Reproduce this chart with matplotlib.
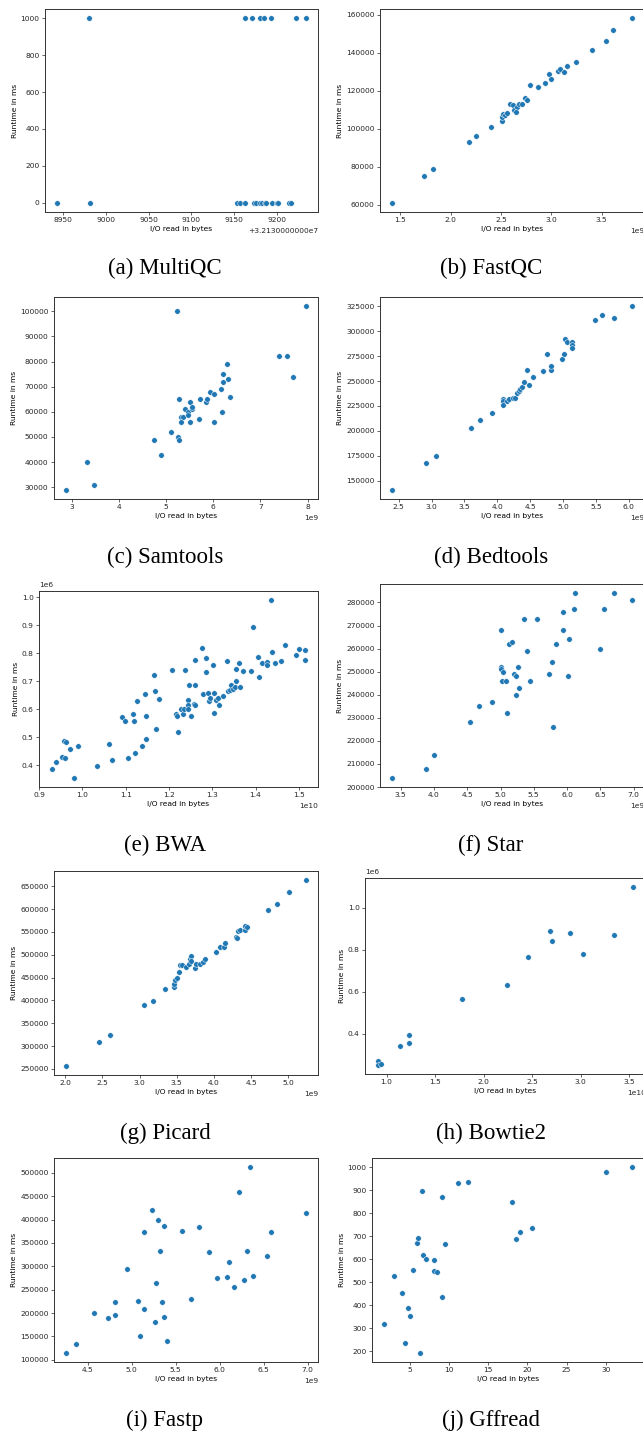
import numpy as np
import matplotlib
matplotlib.use("Agg")
import matplotlib.pyplot as plt
from matplotlib import ticker

W, H = 643, 1432

# (a) MultiQC
multiqc_x = [32138980, 32139163, 32139171, 32139180, 32139185, 32139194, 32139223, 32139234,
             32138943, 32138981, 32139154, 32139157, 32139163, 32139173, 32139176, 32139180,
             32139183, 32139186, 32139188, 32139195, 32139200, 32139202, 32139215, 32139217]
multiqc_y = [1000, 1000, 1000, 1000, 1000, 1000, 1000, 1000,
             0, 0, 0, 0, 0, 0, 0, 0, 0, 0, 0, 0, 0, 0, 0, 0]

# (b) FastQC, x in 1e9 bytes
fastqc_x = [1.417, 1.735, 1.828, 2.18, 2.253, 2.399, 2.505, 2.505, 2.52, 2.54, 2.56, 2.585,
            2.62, 2.63, 2.654, 2.648, 2.678, 2.704, 2.734, 2.76, 2.787, 2.866, 2.933, 2.973,
            2.993, 3.062, 3.085, 3.122, 3.155, 3.241, 3.404, 3.54, 3.607, 3.80]
fastqc_y = [61000, 75000, 79000, 93000, 96000, 101000, 104000, 106200, 107800, 107100, 108000, 113000,
            112200, 110000, 111500, 108900, 113100, 113100, 115900, 115000, 123100, 122000, 124000, 129000,
            125900, 130100, 131200, 130000, 133100, 135000, 141200, 146000, 152100, 158100]

# (c) Samtools, x in 1e9 bytes
samtools_x = [2.88, 3.326, 3.468, 4.745, 4.90, 5.10, 5.262, 5.277, 5.234, 5.277, 5.312, 5.36,
              5.312, 5.41, 5.468, 5.468, 5.50, 5.497, 5.553, 5.56, 5.695, 5.716, 5.844, 5.858,
              5.929, 6.007, 6.007, 6.156, 6.177, 6.199, 6.213, 6.29, 6.305, 6.348, 7.39, 7.553,
              7.688, 7.965]
samtools_y = [29000, 40000, 31000, 49000, 43000, 52000, 50000, 49000, 100000, 65000, 58000, 58000,
              56000, 61000, 60000, 58900, 64000, 56000, 61000, 62000, 57000, 65000, 64000, 65000,
              68000, 67000, 56000, 69000, 60000, 75000, 72000, 79000, 73000, 66000, 82000, 82000,
              74000, 102000]

# (d) Bedtools, x in 1e9 bytes
bedtools_x = [2.398, 2.917, 3.075, 3.599, 3.741, 3.914, 4.082, 4.082, 4.087, 4.143, 4.184, 4.234,
              4.27, 4.306, 4.326, 4.346, 4.377, 4.40, 4.458, 4.483, 4.54, 4.70, 4.758, 4.81,
              4.82, 4.987, 5.013, 5.028, 5.064, 5.13, 5.135, 5.14, 5.486, 5.593, 5.78, 6.05]
bedtools_y = [141000, 168000, 175000, 203000, 211000, 218000, 232000, 230000, 226000, 230000, 232000, 233200,
              233500, 238000, 240500, 242500, 244000, 249000, 261000, 246000, 254000, 260000, 277000, 261000,
              265000, 272000, 277000, 292000, 289000, 289100, 286400, 283000, 311000, 316000, 313000, 325000]

# (e) BWA, x in 1e10 bytes, y in 1e6 ms
bwa_x = [0.929, 0.939, 0.9525, 0.958, 0.962, 0.959, 0.972, 0.980, 0.989, 1.034, 1.061, 1.068,
         1.091, 1.098, 1.105, 1.118, 1.119, 1.121, 1.127, 1.138, 1.145, 1.148, 1.147, 1.165,
         1.168, 1.170, 1.176, 1.2066, 1.217, 1.218, 1.220, 1.227, 1.233, 1.234, 1.238, 1.243,
         1.244, 1.245, 1.247, 1.252, 1.257, 1.260, 1.260, 1.261, 1.277, 1.279, 1.285, 1.285,
         1.290, 1.292, 1.295, 1.301, 1.303, 1.303, 1.309, 1.313, 1.316, 1.325, 1.333, 1.336,
         1.342, 1.343, 1.349, 1.353, 1.354, 1.354, 1.361, 1.364, 1.371, 1.390, 1.393, 1.406,
         1.409, 1.414, 1.427, 1.427, 1.435, 1.437, 1.444, 1.458, 1.468, 1.493, 1.500, 1.515,
         1.515]
bwa_y = [0.386, 0.412, 0.431, 0.487, 0.485, 0.427, 0.457, 0.355, 0.469, 0.398, 0.475, 0.420,
         0.571, 0.559, 0.425, 0.585, 0.560, 0.443, 0.630, 0.468, 0.655, 0.575, 0.494, 0.724,
         0.667, 0.530, 0.637, 0.739, 0.583, 0.575, 0.520, 0.602, 0.584, 0.602, 0.741, 0.634,
         0.617, 0.602, 0.685, 0.577, 0.618, 0.616, 0.775, 0.685, 0.818, 0.654, 0.784, 0.733,
         0.658, 0.631, 0.640, 0.759, 0.659, 0.588, 0.633, 0.642, 0.617, 0.649, 0.772, 0.664,
         0.670, 0.687, 0.672, 0.678, 0.742, 0.702, 0.764, 0.680, 0.738, 0.735, 0.893, 0.785,
         0.714, 0.764, 0.767, 0.757, 0.990, 0.804, 0.765, 0.773, 0.828, 0.795, 0.814, 0.813,
         0.777]

# (f) Star, x in 1e9 bytes
star_x = [3.369, 3.877, 4.007, 4.54, 4.675, 4.876, 5.012, 5.007, 5.012, 5.04, 5.027, 5.077,
          5.092, 5.122, 5.178, 5.208, 5.233, 5.238, 5.268, 5.278, 5.348, 5.399, 5.449, 5.549,
          5.725, 5.77, 5.785, 5.84, 5.936, 5.946, 6.016, 6.036, 6.097, 6.117, 6.488, 6.554,
          6.70, 6.976]
star_y = [204000, 208000, 214000, 228000, 235000, 237000, 268000, 252000, 251000, 250000, 246000, 246000,
          232000, 262000, 263000, 249000, 248000, 240000, 252000, 243000, 273000, 259000, 246000, 273000,
          249000, 254000, 226000, 262000, 268000, 276000, 248000, 264000, 277000, 284000, 260000, 277000,
          284000, 281000]

# (g) Picard, x in 1e9 bytes
picard_x = [2.009, 2.459, 2.595, 3.054, 3.176, 3.347, 3.468, 3.468, 3.473, 3.505, 3.532, 3.541,
            3.568, 3.622, 3.662, 3.68, 3.689, 3.698, 3.743, 3.757, 3.815, 3.847, 3.878, 4.022,
            4.077, 4.135, 4.144, 4.293, 4.311, 4.329, 4.351, 4.414, 4.419, 4.45, 4.73, 4.852,
            5.005, 5.239]
picard_y = [257000, 310000, 325000, 389000, 398000, 426000, 430000, 437000, 445000, 450000, 462000, 477500,
            477000, 474000, 480000, 491000, 496600, 487000, 471000, 479000, 479000, 485000, 490000, 505000,
            516000, 517200, 525000, 539000, 536000, 551000, 553800, 554000, 562000, 561200, 597000, 610000,
            637000, 663000]

# (h) Bowtie2, x in 1e10 bytes, y in 1e6 ms
bowtie2_x = [0.91, 0.913, 0.948, 1.139, 1.232, 1.235, 1.776, 2.24, 2.454, 2.68, 2.70, 2.884, 3.022, 3.337, 3.54]
bowtie2_y = [0.269, 0.25, 0.256, 0.343, 0.394, 0.354, 0.563, 0.633, 0.765, 0.891, 0.844, 0.879, 0.781, 0.871, 1.10]

# (i) Fastp, x in 1e9 bytes
fastp_x = [4.253, 4.363, 4.568, 4.731, 4.807, 4.815, 4.948, 5.073, 5.096, 5.134, 5.141, 5.228,
           5.270, 5.277, 5.304, 5.319, 5.349, 5.372, 5.372, 5.406, 5.577, 5.676, 5.767, 5.873,
           5.964, 6.078, 6.105, 6.165, 6.215, 6.272, 6.31, 6.382, 6.34, 6.533, 6.586, 6.981]
fastp_y = [115000, 133000, 199000, 190000, 196000, 224000, 295000, 226000, 150000, 209000, 373000, 420000,
           180000, 265000, 399000, 333000, 223000, 192000, 386000, 140000, 376000, 231000, 385000, 330000,
           275000, 278000, 309000, 256000, 460000, 271000, 332000, 279000, 512000, 321000, 373000, 415000]

# (j) Gffread
gffread_x = [1.73, 2.92, 4.02, 4.36, 4.74, 5.04, 5.43, 5.94, 6.02, 6.28, 6.53, 6.62, 7.04, 8.10,
             8.06, 8.44, 9.04, 9.12, 9.42, 11.12, 12.44, 18.0, 18.52, 19.03, 20.6, 30.08, 33.3]
gffread_y = [318, 528, 454, 238, 387, 355, 553, 672, 693, 194, 895, 620, 602, 596,
             548, 547, 438, 872, 666, 930, 935, 847, 688, 719, 736, 981, 1000]

panels = [
    ("(a) MultiQC", multiqc_x, 1, multiqc_y, 1),
    ("(b) FastQC", fastqc_x, 1e9, fastqc_y, 1),
    ("(c) Samtools", samtools_x, 1e9, samtools_y, 1),
    ("(d) Bedtools", bedtools_x, 1e9, bedtools_y, 1),
    ("(e) BWA", bwa_x, 1e10, bwa_y, 1e6),
    ("(f) Star", star_x, 1e9, star_y, 1),
    ("(g) Picard", picard_x, 1e9, picard_y, 1),
    ("(h) Bowtie2", bowtie2_x, 1e10, bowtie2_y, 1e6),
    ("(i) Fastp", fastp_x, 1e9, fastp_y, 1),
    ("(j) Gffread", gffread_x, 1, gffread_y, 1),
]

# axes boxes in pixels: left, top, right, bottom ; caption centre x, y
boxes = [
    (45, 9, 318, 212, 165, 268),
    (380, 9, 644, 212, 491, 268),
    (54, 297, 318, 499, 165, 557),
    (380, 297, 644, 499, 491, 557),
    (39, 591, 318, 787, 165, 845),
    (380, 584, 644, 787, 491, 845),
    (54, 871, 318, 1075, 165, 1133),
    (365, 878, 646, 1074, 491, 1133),
    (54, 1158, 318, 1362, 165, 1420),
    (372, 1158, 644, 1362, 491, 1420),
]


class OldOffsetFormatter(ticker.ScalarFormatter):
    # offset written the old way: +3.2130000000e7
    def get_offset(self):
        if not self.offset:
            return super().get_offset()
        mant, exp = ("%1.10e" % self.offset).split("e")
        return "+" + mant + "e" + str(int(exp))


plt.rcParams.update({
    "font.size": 5.4,
    "axes.linewidth": 0.7,
    "xtick.major.size": 2.0,
    "ytick.major.size": 2.0,
    "xtick.major.width": 0.5,
    "ytick.major.width": 0.5,
    "xtick.major.pad": 1.9,
    "ytick.major.pad": 1.9,
    "axes.labelpad": 2.2,
    "xtick.color": "#262626",
    "ytick.color": "#262626",
    "axes.edgecolor": "#333333",
})

fig = plt.figure(figsize=(W / 100, H / 100), dpi=100)

for (caption, xs, xscale, ys, yscale), (l, t, r, b, cx, cy) in zip(panels, boxes):
    ax = fig.add_axes([l / W, 1 - b / H, (r - l) / W, (b - t) / H])
    ax.scatter(np.array(xs) * xscale, np.array(ys) * yscale, s=16,
               color="#1f77b4", edgecolor="white", linewidth=0.35)
    if caption.startswith("(a)"):
        ax.xaxis.set_major_formatter(OldOffsetFormatter())
    ax.set_xlabel("I/O read in bytes")
    ax.set_ylabel("Runtime in ms")
    fig.text(cx / W, 1 - cy / H, caption, ha="center", va="center",
             family="Liberation Serif", fontsize=16.5)

fig.savefig("out.png", dpi=100)
